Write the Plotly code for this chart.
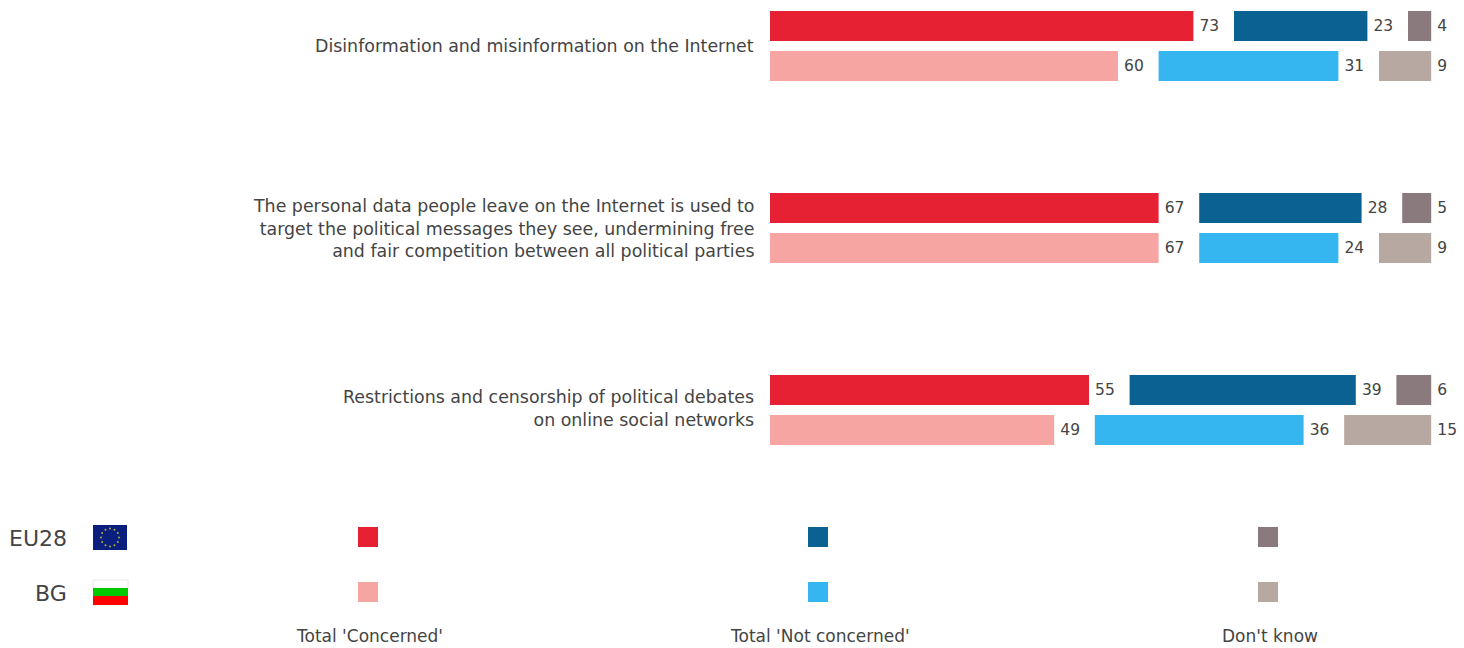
import math
import plotly.graph_objects as go

# ---- data ----
questions = [
    "Disinformation and misinformation on the Internet",
    "The personal data people leave on the Internet is used to<br>target the political messages they see, undermining free<br>and fair competition between all political parties",
    "Restrictions and censorship of political debates<br>on online social networks",
]
eu_concerned = [73, 67, 55]
eu_not_concerned = [23, 28, 39]
eu_dont_know = [4, 5, 6]
bg_concerned = [60, 67, 49]
bg_not_concerned = [31, 24, 36]
bg_dont_know = [9, 9, 15]
legend_labels = ["Total 'Concerned'", "Total 'Not concerned'", "Don't know"]
region_labels = ["EU28", "BG"]
eu_colors = ["#E62134", "#0B6191", "#8A7A7E"]
bg_colors = ["#F6A5A2", "#36B6F0", "#B7A9A1"]

# ---- layout constants ----
W, H = 1464, 648
ZERO_PX, PX_PER_UNIT = 770, 5.8
GAP = 7
FIRST_CENTER_PX, PITCH_PX = 46, 182
TEXT = "#444444"
FONT = "DejaVu Sans"
QSIZE = 17.4

fig = go.Figure()
cats = [0, 1, 2]


def add_group(name, conc, notc, dk, colors):
    bases = [
        [0, 0, 0],
        [c + GAP for c in conc],
        [c + n + 2 * GAP for c, n in zip(conc, notc)],
    ]
    for vals, base, col, lab in zip((conc, notc, dk), bases, colors, legend_labels):
        fig.add_trace(go.Bar(
            y=cats, x=vals, base=base, orientation="h", name=f"{name} {lab}",
            offsetgroup=name, marker=dict(color=col, line=dict(width=0)),
            text=vals, texttemplate="\u2009%{text}", textposition="outside", cliponaxis=False,
            textfont=dict(size=15.5, color=TEXT, family=FONT),
            showlegend=False, hoverinfo="skip",
        ))


add_group("EU28", eu_concerned, eu_not_concerned, eu_dont_know, eu_colors)
add_group("BG", bg_concerned, bg_not_concerned, bg_dont_know, bg_colors)

# legend squares on a pixel-scaled overlay axis
legend_x = [368, 818, 1268]
legend_y = [537, 592]
for ly, cols in zip(legend_y, (eu_colors, bg_colors)):
    fig.add_trace(go.Scatter(
        x=legend_x, y=[ly] * 3, xaxis="x2", yaxis="y2", mode="markers",
        marker=dict(symbol="square", size=20, color=cols, line=dict(width=0)),
        showlegend=False, hoverinfo="skip",
    ))

# EU flag stars
star_x = [110 + 9 * math.sin(i * math.pi / 6) for i in range(12)]
star_y = [537.5 - 9 * math.cos(i * math.pi / 6) for i in range(12)]
fig.add_trace(go.Scatter(
    x=star_x, y=star_y, xaxis="x2", yaxis="y2", mode="markers",
    marker=dict(symbol="circle", size=2, color="#B5A93A", line=dict(width=0)),
    showlegend=False, hoverinfo="skip",
))

annotations = []
for i, q in enumerate(questions):
    annotations.append(dict(
        x=-2.5, y=i, xref="x", yref="y", text=q, showarrow=False,
        xanchor="right", yanchor="middle", align="right",
        yshift=2 if i == 2 else 0,
        font=dict(size=QSIZE, color=TEXT, family=FONT),
    ))
for lab, ly in zip(region_labels, (538, 593)):
    annotations.append(dict(
        x=69, y=ly, xref="x2", yref="y2", text=lab, showarrow=False,
        xanchor="right", yanchor="middle",
        font=dict(size=22, color=TEXT, family=FONT),
    ))
for lab, lx in zip(legend_labels, (369, 820, 1270)):
    annotations.append(dict(
        x=lx, y=636, xref="x2", yref="y2", text=lab, showarrow=False,
        xanchor="center", yanchor="middle",
        font=dict(size=17, color=TEXT, family=FONT),
    ))


def rect(x0, y0, x1, y1, color, line=None):
    return dict(type="rect", xref="x2", yref="y2", x0=x0, y0=y0, x1=x1, y1=y1,
                fillcolor=color, layer="below",
                line=dict(width=1 if line else 0, color=line or color))


shapes = [
    rect(93, 525, 127, 550, "#0A1F7D"),
    rect(93, 580, 128, 588, "#FFFFFF", "#E8E8E8"),
    rect(93, 588, 128, 596, "#00C800"),
    rect(93, 596, 128, 605, "#FF0000"),
]

fig.update_layout(
    width=W, height=H, margin=dict(l=0, r=0, t=0, b=0, pad=0),
    paper_bgcolor="white", plot_bgcolor="white", showlegend=False,
    barmode="group", bargap=1 - 80 / PITCH_PX, bargroupgap=0.25,
    annotations=annotations, shapes=shapes,
    xaxis=dict(range=[-ZERO_PX / PX_PER_UNIT, (W - ZERO_PX) / PX_PER_UNIT],
               visible=False, fixedrange=True),
    yaxis=dict(range=[(H - FIRST_CENTER_PX) / PITCH_PX, -FIRST_CENTER_PX / PITCH_PX],
               visible=False, fixedrange=True),
    xaxis2=dict(range=[0, W], overlaying="x", visible=False, fixedrange=True),
    yaxis2=dict(range=[H, 0], overlaying="y", visible=False, fixedrange=True),
)

fig.write_html("out.html", config=dict(displayModeBar=False),
               post_script="document.body.style.margin='0';document.body.style.overflow='hidden';")
